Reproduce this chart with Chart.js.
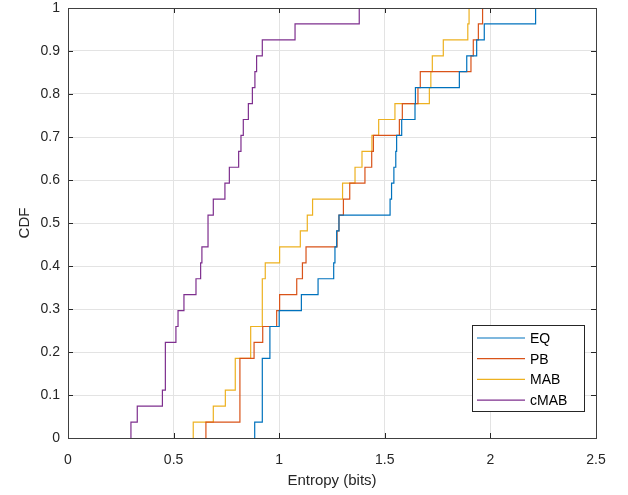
<!DOCTYPE html>
<html>
<head>
<meta charset="utf-8">
<script src="https://cdn.jsdelivr.net/npm/chart.js@4/dist/chart.umd.min.js"></script>
<style>
html,body{margin:0;padding:0;background:#fff;}
#wrap{width:628px;height:495px;position:relative;}
</style>
</head>
<body>
<div id="wrap"><canvas id="c" width="628" height="495"></canvas></div>
<script>
// Sorted sample values (Entropy, bits), 27 per series
const seriesNames = ['EQ', 'PB', 'MAB', 'cMAB'];
const eqValues = [0.884, 0.920, 0.920, 0.920, 0.920, 0.956, 0.956, 1.000, 1.105, 1.184, 1.258, 1.264, 1.272, 1.283,
  1.525, 1.532, 1.543, 1.552, 1.556, 1.580, 1.643, 1.645, 1.853, 1.888, 1.935, 1.971, 2.214];
const pbValues = [0.653, 0.814, 0.814, 0.814, 0.814, 0.881, 0.922, 0.988, 1.002, 1.083, 1.110, 1.127, 1.274, 1.283,
  1.304, 1.334, 1.406, 1.438, 1.446, 1.569, 1.583, 1.657, 1.668, 1.908, 1.919, 1.943, 1.963];
const mabValues = [0.593, 0.688, 0.745, 0.792, 0.792, 0.865, 0.865, 0.920, 0.920, 0.920, 0.934, 1.002, 1.100, 1.133,
  1.158, 1.300, 1.359, 1.392, 1.439, 1.471, 1.548, 1.711, 1.718, 1.725, 1.777, 1.893, 1.899];
const cmabValues = [0.298, 0.328, 0.447, 0.461, 0.461, 0.461, 0.511, 0.521, 0.549, 0.606, 0.628, 0.634, 0.663, 0.663,
  0.688, 0.743, 0.764, 0.808, 0.819, 0.830, 0.854, 0.873, 0.885, 0.893, 0.920, 1.075, 1.379];
const xTicks = [0, 0.5, 1, 1.5, 2, 2.5];
const yTicks = [0, 0.1, 0.2, 0.3, 0.4, 0.5, 0.6, 0.7, 0.8, 0.9, 1];

const colors = ['#0072BD', '#D95319', '#EDB120', '#7E2F8E'];
const allValues = [eqValues, pbValues, mabValues, cmabValues];

function cdfPoints(xs) {
  const pts = [{x: xs[0], y: 0}];
  xs.forEach((v, i) => pts.push({x: v, y: (i + 1) / xs.length}));
  return pts;
}
const fmt = v => String(+Number(v).toFixed(3));

const FONT = '"Liberation Sans", Arial, Helvetica, sans-serif';
const AX = '#262626';

const boxPlugin = {
  id: 'matlabBox',
  afterDatasetsDraw(chart) {
    const {ctx, chartArea: a, scales} = chart;
    ctx.save();
    ctx.strokeStyle = AX;
    ctx.lineWidth = 1;
    const tl = 5;
    ctx.beginPath();
    xTicks.forEach(t => {
      const x = Math.round(scales.x.getPixelForValue(t)) + 0.5;
      ctx.moveTo(x, a.bottom); ctx.lineTo(x, a.bottom - tl);
      ctx.moveTo(x, a.top); ctx.lineTo(x, a.top + tl);
    });
    yTicks.forEach(t => {
      const y = Math.round(scales.y.getPixelForValue(t)) + 0.5;
      ctx.moveTo(a.left, y); ctx.lineTo(a.left + tl, y);
      ctx.moveTo(a.right, y); ctx.lineTo(a.right - tl, y);
    });
    ctx.stroke();
    ctx.strokeStyle = '#404040';
    ctx.strokeRect(Math.round(a.left) + 0.5, Math.round(a.top) + 0.5,
      Math.round(a.right - a.left), Math.round(a.bottom - a.top));
    ctx.fillStyle = AX;
    ctx.font = '15px ' + FONT;
    ctx.textAlign = 'center';
    ctx.textBaseline = 'middle';
    ctx.fillText('Entropy (bits)', (a.left + a.right) / 2, 481);
    ctx.save();
    ctx.translate(25, (a.top + a.bottom) / 2);
    ctx.rotate(-Math.PI / 2);
    ctx.fillText('CDF', 0, 0);
    ctx.restore();
    const lx = 472.5, ly = 325.5, lw = 112, lh = 86;
    ctx.fillStyle = '#fff';
    ctx.fillRect(lx, ly, lw, lh);
    ctx.strokeStyle = '#262626';
    ctx.strokeRect(lx, ly, lw, lh);
    ctx.font = '14px ' + FONT;
    ctx.textAlign = 'left';
    seriesNames.forEach((n, i) => {
      const y = 338 + i * 20.7;
      ctx.strokeStyle = colors[i];
      ctx.lineWidth = 1.2;
      ctx.beginPath();
      ctx.moveTo(477, y); ctx.lineTo(525, y);
      ctx.stroke();
      ctx.fillStyle = '#000';
      ctx.fillText(n, 530, y + 1);
    });
    ctx.restore();
  }
};

new Chart(document.getElementById('c'), {
  type: 'line',
  data: {
    datasets: allValues.map((vals, i) => ({
      label: seriesNames[i],
      data: cdfPoints(vals),
      borderColor: colors[i],
      backgroundColor: colors[i],
      borderWidth: 1.2,
      pointRadius: 0,
      stepped: 'before',
      fill: false,
      tension: 0
    }))
  },
  options: {
    responsive: false,
    animation: false,
    devicePixelRatio: 1,
    layout: {padding: {left: 0, right: 32, top: 8, bottom: 0}},
    plugins: {legend: {display: false}, tooltip: {enabled: false}},
    scales: {
      x: {
        type: 'linear', min: 0, max: 2.5,
        afterBuildTicks: s => { s.ticks = xTicks.map(v => ({value: v})); },
        afterFit: s => { s.height = 57; s.paddingLeft = 0; s.paddingRight = 0; },
        ticks: {color: AX, font: {family: FONT, size: 14}, padding: 14, maxRotation: 0, callback: fmt},
        grid: {color: '#e3e3e3', drawTicks: false, lineWidth: 1},
        border: {display: false}
      },
      y: {
        type: 'linear', min: 0, max: 1,
        afterBuildTicks: s => { s.ticks = yTicks.map(v => ({value: v})); },
        afterFit: s => { s.width = 68; s.paddingTop = 0; s.paddingBottom = 0; },
        ticks: {color: AX, font: {family: FONT, size: 14}, padding: 8, callback: fmt},
        grid: {color: '#e3e3e3', drawTicks: false, lineWidth: 1},
        border: {display: false}
      }
    }
  },
  plugins: [boxPlugin]
});
</script>
</body>
</html>
